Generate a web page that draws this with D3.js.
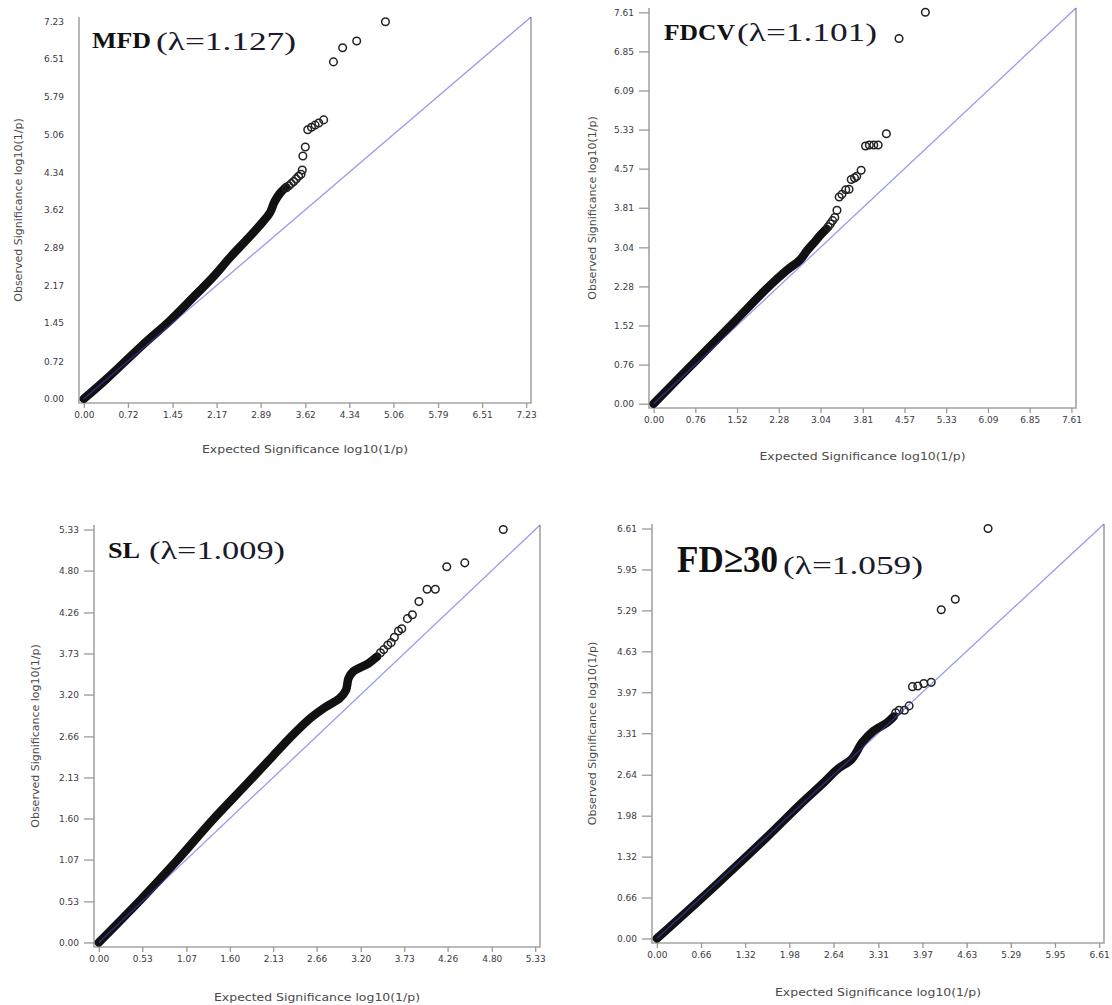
<!DOCTYPE html>
<html>
<head>
<meta charset="utf-8">
<script src="https://cdn.jsdelivr.net/npm/d3@7"></script>
<style>
  body { margin: 0; background: #fff; }
  svg { display: block; }
</style>
</head>
<body>
<div class="visualize-svg"></div>
<script>
// traits and their inflation factors
const traits = ['MFD', 'FDCV', 'SL', 'FD≥30'];
const lambdas = ['1.127', '1.101', '1.009', '1.059'];

// tick values, same on both axes of a panel
const ticksMFD = [0, 0.72, 1.45, 2.17, 2.89, 3.62, 4.34, 5.06, 5.79, 6.51, 7.23];
const ticksFDCV = [0, 0.76, 1.52, 2.28, 3.04, 3.81, 4.57, 5.33, 6.09, 6.85, 7.61];
const ticksSL = [0, 0.53, 1.07, 1.60, 2.13, 2.66, 3.20, 3.73, 4.26, 4.80, 5.33];
const ticksFD30 = [0, 0.66, 1.32, 1.98, 2.64, 3.31, 3.97, 4.63, 5.29, 5.95, 6.61];

// dense part of the cloud, [expected, observed] read along the band
const bandMFD = [[0, 0], [0.37, 0.38], [0.95, 1.02], [1.41, 1.50], [1.76, 1.91], [2.11, 2.33],
  [2.40, 2.72], [2.69, 3.08], [2.92, 3.38], [3.04, 3.56], [3.12, 3.78], [3.21, 3.94], [3.30, 4.05]];
const bandFDCV = [[0, 0], [0.82, 0.89], [1.45, 1.57], [2.09, 2.27], [2.41, 2.58], [2.67, 2.80],
  [2.79, 2.97], [2.92, 3.13], [3.05, 3.29], [3.15, 3.40]];
const bandSL = [[0, 0], [0.51, 0.55], [0.94, 1.04], [1.38, 1.57], [1.81, 2.05], [2.12, 2.40],
  [2.38, 2.69], [2.59, 2.90], [2.77, 3.04], [2.94, 3.15], [3.02, 3.26], [3.05, 3.41],
  [3.11, 3.50], [3.29, 3.60], [3.40, 3.69]];
const bandFD30 = [[0, 0], [0.85, 0.83], [1.64, 1.63], [2.17, 2.19], [2.49, 2.51], [2.70, 2.73],
  [2.91, 2.89], [3.07, 3.16], [3.23, 3.34], [3.44, 3.48], [3.54, 3.58]];

// single circles of the upper tail
const tailMFD = [[3.31, 4.04], [3.35, 4.08], [3.39, 4.12], [3.43, 4.16],
  [3.47, 4.21], [3.51, 4.26], [3.55, 4.30], [3.57, 4.38], [3.58, 4.65], [3.62, 4.82], [3.66, 5.15],
  [3.72, 5.20], [3.78, 5.24], [3.84, 5.28], [3.92, 5.34], [4.08, 6.45], [4.23, 6.72], [4.46, 6.85],
  [4.93, 7.22]];
const tailFDCV = [[3.18, 3.44], [3.22, 3.50], [3.26, 3.56], [3.30, 3.62], [3.34, 3.76], [3.38, 4.02],
  [3.43, 4.07], [3.50, 4.16], [3.56, 4.17], [3.60, 4.36], [3.66, 4.39], [3.70, 4.42], [3.78, 4.54],
  [3.86, 5.01], [3.93, 5.03], [4.01, 5.03], [4.09, 5.03], [4.24, 5.25], [4.47, 7.10], [4.95, 7.61]];
const tailSL = [[3.44, 3.74], [3.48, 3.78], [3.53, 3.84], [3.57, 3.87], [3.61, 3.94], [3.66, 4.02],
  [3.70, 4.05], [3.77, 4.18], [3.83, 4.23], [3.91, 4.40], [4.01, 4.56], [4.11, 4.56], [4.25, 4.85],
  [4.47, 4.90], [4.94, 5.33]];
const tailFD30 = [[3.57, 3.64], [3.62, 3.68], [3.70, 3.68], [3.77, 3.75], [3.82, 4.06], [3.90, 4.07],
  [3.99, 4.11], [4.10, 4.13], [4.25, 5.30], [4.46, 5.47], [4.95, 6.61]];

const allTicks = [ticksMFD, ticksFDCV, ticksSL, ticksFD30];
const allBands = [bandMFD, bandFDCV, bandSL, bandFD30];
const allTails = [tailMFD, tailFDCV, tailSL, tailFD30];

// where each panel sits on the page
const frames = [
  { left: 79, top: 17, right: 531, bottom: 403, yTitleX: 18, xTitleY: 453, yTickMarks: false,
    name: { x: 92, y: 48, w: 59, size: 22.7 }, lam: { x: 156, y: 50, w: 140, size: 25 } },
  { left: 649, top: 8, right: 1076, bottom: 408, yTitleX: 592, xTitleY: 460, yTickMarks: true,
    name: { x: 664, y: 40, w: 71, size: 22.7 }, lam: { x: 737, y: 41, w: 140, size: 25 } },
  { left: 94, top: 525, right: 540, bottom: 947, yTitleX: 35, xTitleY: 1001, yTickMarks: true,
    name: { x: 108, y: 558, w: 32, size: 22.7 }, lam: { x: 149, y: 559, w: 136, size: 25 } },
  { left: 652, top: 524, right: 1104, bottom: 943, yTitleX: 592, xTitleY: 996, yTickMarks: true,
    name: { x: 677, y: 572, w: 101, size: 37 }, lam: { x: 783, y: 574, w: 140, size: 25 } }
];

class QQPanel {
  constructor(svg, frame, trait, lambda, ticks, band, tail) {
    this.svg = svg;
    this.f = frame;
    this.trait = trait;
    this.lambda = lambda;
    this.ticks = ticks;
    this.band = band;
    this.tail = tail;

    const max = ticks[ticks.length - 1];
    this.top = max * 1.011;
    this.x = d3.scaleLinear().domain([-max * 0.011, this.top]).range([frame.left, frame.right]);
    this.y = d3.scaleLinear().domain([-max * 0.011, this.top]).range([frame.bottom, frame.top]);
    this.g = svg.append('g');
  }

  drawFrame() {
    const f = this.f;
    this.g.append('path')
      .attr('d', `M${f.left},${f.top}V${f.bottom}H${f.right}V${f.top}`)
      .attr('fill', 'none')
      .attr('stroke', '#a4a4a4')
      .attr('stroke-width', 1.6);
    return this;
  }

  drawAxes() {
    const fmt = d3.format('.2f');
    const gx = this.g.append('g')
      .attr('transform', `translate(0,${this.f.bottom})`)
      .call(d3.axisBottom(this.x).tickValues(this.ticks).tickFormat(fmt).tickSize(5).tickPadding(4));
    const gy = this.g.append('g')
      .attr('transform', `translate(${this.f.left},0)`)
      .call(d3.axisLeft(this.y).tickValues(this.ticks).tickFormat(fmt).tickSize(10).tickPadding(5));

    [gx, gy].forEach(a => {
      a.select('.domain').remove();
      a.selectAll('line').attr('stroke', '#9a9a9a').attr('stroke-width', 1.3);
      a.selectAll('text')
        .attr('fill', '#3a3a44')
        .style('font-family', '"DejaVu Sans", Verdana, sans-serif')
        .style('font-size', '9px');
    });
    if (!this.f.yTickMarks) gy.selectAll('line').remove();
    return this;
  }

  drawBand() {
    const line = d3.line()
      .x(d => this.x(d[0]))
      .y(d => this.y(d[1]))
      .curve(d3.curveCatmullRom.alpha(0.5));
    this.g.append('path')
      .datum(this.band)
      .attr('d', line)
      .attr('fill', 'none')
      .attr('stroke', '#111')
      .attr('stroke-width', 8.5)
      .attr('stroke-linecap', 'round')
      .attr('stroke-linejoin', 'round');
    return this;
  }

  drawTail() {
    this.g.append('g')
      .selectAll('circle')
      .data(this.tail)
      .join('circle')
      .attr('cx', d => this.x(d[0]))
      .attr('cy', d => this.y(d[1]))
      .attr('r', 3.8)
      .attr('fill', 'none')
      .attr('stroke', '#222')
      .attr('stroke-width', 1.5);
    return this;
  }

  drawDiagonal() {
    this.g.append('line')
      .attr('x1', this.x(0)).attr('y1', this.y(0))
      .attr('x2', this.x(this.top)).attr('y2', this.y(this.top))
      .attr('stroke', 'rgb(70,70,225)')
      .attr('stroke-opacity', 0.55)
      .attr('stroke-width', 1.3);
    return this;
  }

  drawTitles() {
    const f = this.f;
    const sans = '"DejaVu Sans", Verdana, sans-serif';
    const serif = '"Liberation Serif", "Times New Roman", serif';

    this.g.append('text')
      .attr('x', (f.left + f.right) / 2)
      .attr('y', f.xTitleY)
      .attr('text-anchor', 'middle')
      .attr('textLength', 206)
      .attr('lengthAdjust', 'spacingAndGlyphs')
      .attr('fill', '#4a4a4a')
      .style('font-family', sans)
      .style('font-size', '11px')
      .text('Expected Significance log10(1/p)');

    this.g.append('text')
      .attr('transform', `translate(${f.yTitleX},${(f.top + f.bottom) / 2}) rotate(-90)`)
      .attr('text-anchor', 'middle')
      .attr('dy', '0.35em')
      .attr('fill', '#4a4a4a')
      .style('font-family', sans)
      .style('font-size', '11px')
      .text('Observed Significance log10(1/p)');

    this.g.append('text')
      .attr('x', f.name.x)
      .attr('y', f.name.y)
      .attr('textLength', f.name.w)
      .attr('lengthAdjust', 'spacingAndGlyphs')
      .attr('fill', '#111')
      .style('font-family', serif)
      .style('font-weight', 'bold')
      .style('font-size', f.name.size + 'px')
      .text(this.trait);

    this.g.append('text')
      .attr('x', f.lam.x)
      .attr('y', f.lam.y)
      .attr('textLength', f.lam.w)
      .attr('lengthAdjust', 'spacingAndGlyphs')
      .attr('fill', '#1a1a2a')
      .style('font-family', serif)
      .style('font-size', f.lam.size + 'px')
      .text(`(λ=${this.lambda})`);
    return this;
  }

  draw() {
    this
      .drawFrame()
      .drawBand()
      .drawTail()
      .drawDiagonal()
      .drawAxes()
      .drawTitles();
    return this;
  }
}

const svg = d3.select('.visualize-svg')
  .append('svg')
  .attr('width', 1112)
  .attr('height', 1005);

traits.forEach((t, i) => {
  new QQPanel(svg, frames[i], t, lambdas[i], allTicks[i], allBands[i], allTails[i]).draw();
});
</script>
</body>
</html>
